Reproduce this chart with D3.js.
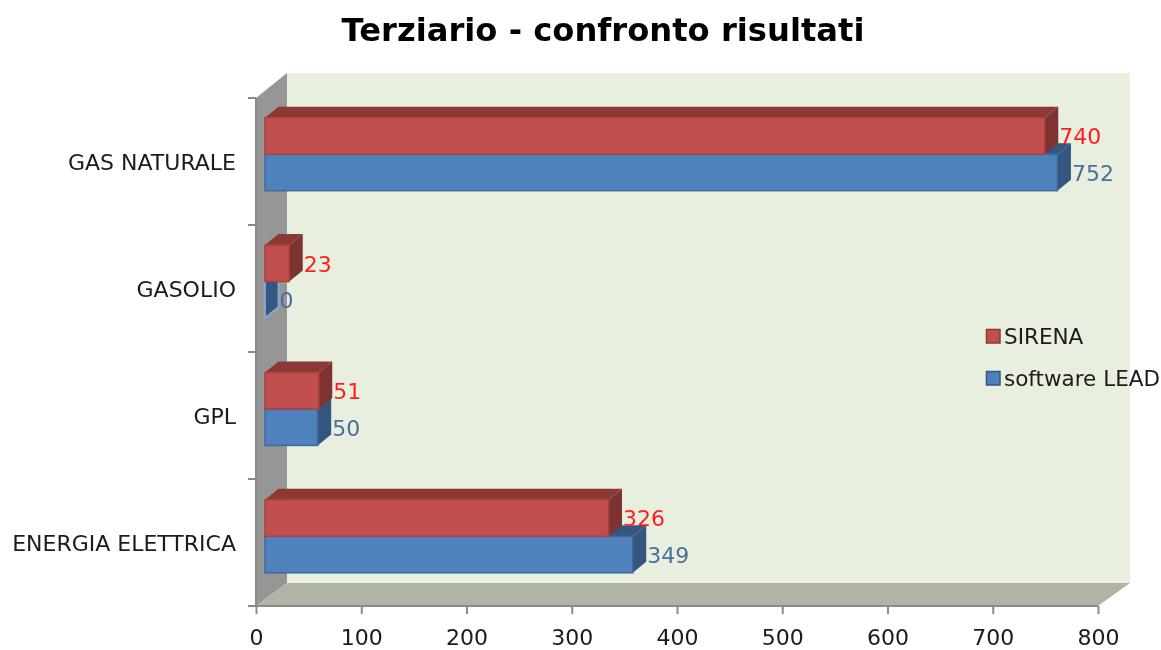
<!DOCTYPE html>
<html><head><meta charset="utf-8">
<script src="https://cdn.jsdelivr.net/npm/d3@7"></script>
<style>html,body{margin:0;background:#fff}svg{display:block}text{font-family:"DejaVu Sans",Verdana,sans-serif}</style>
</head><body><svg id="c" width="1161" height="650"></svg>
<script>
const title = "Terziario - confronto risultati";
const categories = ["GAS NATURALE","GASOLIO","GPL","ENERGIA ELETTRICA"];
const sirena = [740,23,51,326];
const lead = [752,0,50,349];
const xTicks = [0,100,200,300,400,500,600,700,800];
const seriesNames = ["SIRENA","software LEAD"];

const x0=256,x1=1098,yTop=98,yBot=606, backX=287,backR=1130,backTop=73,backBot=583, barDx=13.5,barDy=-11,barH=36.5;
const svg=d3.select("#c");
svg.append("defs").append("filter").attr("id","soft").attr("x","-2%").attr("y","-2%").attr("width","104%").attr("height","104%")
  .append("feGaussianBlur").attr("stdDeviation",0.45);
const root=svg.append("g").attr("filter","url(#soft)");
const x=d3.scaleLinear().domain([0,800]).range([x0,x1]);
const y=d3.scaleBand().domain(categories).range([yTop,yBot]);
// bars sit slightly inside the plot, with their own position scales
const barX=d3.scaleLinear().domain([0,800]).range([265,1108]);
const barY=d3.scaleBand().domain(categories).range([yTop,yBot+1.5]);
const poly=p=>p.map(d=>d.join(",")).join(" ");

// walls
root.append("polygon").attr("points",poly([[backX,backTop],[backR,backTop],[backR,backBot],[backX,backBot]])).attr("fill","#e9efde");
root.append("polygon").attr("points",poly([[x0,yTop],[backX,backTop],[backX,backBot],[x0,yBot]])).attr("fill","#969696");
root.append("polygon").attr("points",poly([[x0,yBot],[backX,backBot],[backR,backBot],[x1,yBot]])).attr("fill","#b1b4a5");

// axes
const ax=root.append("g").attr("transform",`translate(0,${yBot})`)
  .call(d3.axisBottom(x).tickValues(xTicks).tickSize(8).tickPadding(15).tickFormat(d3.format("d")));
const ay=root.append("g").attr("transform",`translate(${x0},0)`)
  .call(d3.axisLeft(y).tickSize(0).tickPadding(20));
[ax,ay].forEach(g=>{g.selectAll("path,line").attr("stroke","#8a8a8a").attr("stroke-width",2);g.selectAll("text").attr("fill","#1a1a1a").attr("font-size",22)
  .attr("font-family",'"DejaVu Sans"');});
ax.select("path").attr("d",`M${x0-8},0H${x1}`);
ay.select("path").attr("d",`M0,${yTop}V${yBot}`);
ay.selectAll(".tick text").attr("dy","0.36em").attr("transform","translate(0,1)");
const bounds=y.domain().map(d=>y(d)).concat([yBot]);
root.append("g").selectAll("line").data(bounds).join("line")
  .attr("x1",x0-8).attr("x2",x0).attr("y1",d=>d).attr("y2",d=>d).attr("stroke","#8a8a8a").attr("stroke-width",2);

// bars
const styles=[
 {vals:lead,off:0,front:"#4f81bd",edge:"#3e6a9e",top:"#34567f",side:"#34567f",lab:"#4a6f9c"},
 {vals:sirena,off:-barH,front:"#c0504d",edge:"#a8423f",top:"#8c3836",side:"#7f3331",lab:"#ff1f1f"}];
styles.forEach(s=>{
  const g=root.append("g").selectAll("g").data(categories.map((c,i)=>({c,v:s.vals[i]}))).join("g");
  const yy=d=>barY(d.c)+barY.bandwidth()/2-7.5+s.off;
  const xl=barX(0);
  g.append("polygon").attr("points",d=>poly([[xl,yy(d)],[xl+barDx,yy(d)+barDy],[barX(d.v)+barDx,yy(d)+barDy],[barX(d.v),yy(d)]])).attr("fill",s.top);
  g.append("polygon").attr("points",d=>poly([[barX(d.v),yy(d)],[barX(d.v)+barDx,yy(d)+barDy],[barX(d.v)+barDx,yy(d)+barH+barDy],[barX(d.v),yy(d)+barH]])).attr("fill",s.side)
    .attr("stroke",d=>d.v===0?"#86a8d4":"none").attr("stroke-width",1.8);
  g.filter(d=>d.v>0).append("rect").attr("x",xl).attr("y",yy).attr("width",d=>barX(d.v)-xl).attr("height",barH)
    .attr("fill",s.front).attr("stroke",s.edge).attr("stroke-width",1.5);
  s.yy=yy;
});
// value labels on top of all bars
styles.forEach(s=>{
  root.append("g").selectAll("text").data(categories.map((c,i)=>({c,v:s.vals[i]}))).join("text")
    .attr("x",d=>barX(d.v)+barDx+1).attr("y",d=>s.yy(d)+barH/2+0.5).attr("dy","0.36em")
    .attr("font-size",22).attr("fill",s.lab).text(d=>d.v);
});

// legend
const leg=root.append("g").selectAll("g").data(seriesNames).join("g");
const legY=d3.scalePoint().domain(seriesNames).range([336,378]);
const legCol=[styles[1],styles[0]];
leg.append("rect").attr("x",986.5).attr("y",d=>legY(d)-6.5).attr("width",13.5).attr("height",13.5)
  .attr("fill",(d,i)=>legCol[i].front).attr("stroke",(d,i)=>legCol[i].top).attr("stroke-width",1.5);
leg.append("text").attr("x",1004).attr("y",d=>legY(d)).attr("dy","0.36em").attr("font-size",21.5).attr("fill","#1a1a1a").text(d=>d);

// title
root.append("text").attr("x",603).attr("y",41).attr("text-anchor","middle").attr("font-size",32.2).attr("font-weight","bold").attr("fill","#000").text(title);
</script></body></html>
